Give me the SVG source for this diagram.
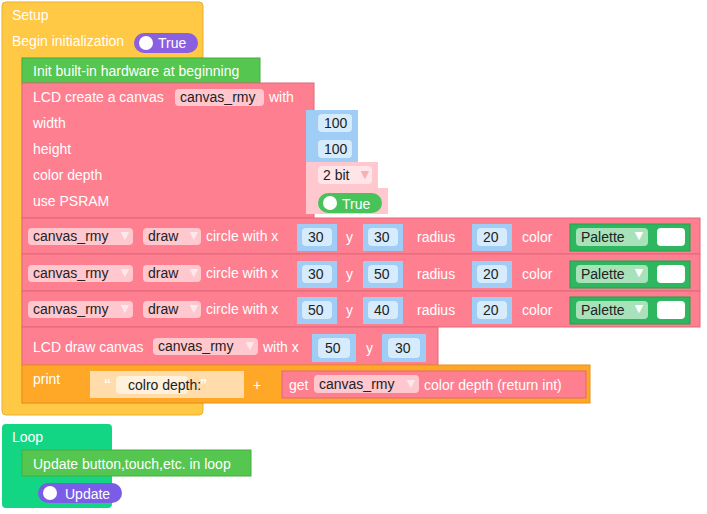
<svg xmlns="http://www.w3.org/2000/svg" width="707" height="514" viewBox="0 0 707 514">
<style>
text{font-family:"Liberation Sans",Arial,sans-serif;font-size:14px}
.w{fill:#fff}.d{fill:#222}
.pk{fill:#fe7f90;stroke:#e0687a;stroke-width:1}
.bl{fill:#9fcdf5}
.fb{fill:#d6ebfc}
.pf{fill:#ffc7ce}
.gr{fill:#2fb760;stroke:#23a050}
.gf{fill:#a8e2bb}
.arr{fill:#fff;opacity:.6}
</style>
<rect width="707" height="514" fill="#fff"/>
<g id="setup">
<path d="M6,2H199a4,4 0 0 1 4,4V58H22V403H203V411a4,4 0 0 1 -4,4H6a4,4 0 0 1 -4,-4V6a4,4 0 0 1 4,-4Z" fill="#ffc845" stroke="#e8b030"/>
<text x="12" y="20" class="w">Setup</text>
<text x="12" y="46" class="w">Begin initialization</text>
<rect x="134" y="33" width="64" height="20" rx="10" fill="#8a5fe0"/>
<circle cx="146" cy="43" r="7" fill="#fff"/>
<text x="158" y="48" class="w">True</text>
</g>
<g id="init">
<rect x="22" y="58" width="238" height="25" fill="#55c64f" stroke="#46ad40"/>
<text x="33" y="76" class="w">Init built-in hardware at beginning</text>
</g>
<g id="lcd-create">
<rect x="22" y="83" width="292" height="135" class="pk"/>
<text x="33" y="102" class="w">LCD create a canvas</text>
<rect x="175" y="89" width="89" height="17" rx="4" class="pf"/>
<text x="180" y="102" class="d">canvas_rmy</text>
<text x="269" y="102" class="w">with</text>
<text x="33" y="128" class="w">width</text>
<text x="33" y="154" class="w">height</text>
<text x="33" y="180" class="w">color depth</text>
<text x="33" y="206" class="w">use PSRAM</text>
<rect x="306" y="110" width="52" height="26" class="bl"/>
<rect x="318" y="114" width="34" height="18" rx="4" class="fb"/>
<text x="324" y="128" class="d">100</text>
<rect x="306" y="136" width="52" height="26" class="bl"/>
<rect x="318" y="140" width="34" height="18" rx="4" class="fb"/>
<text x="324" y="154" class="d">100</text>
<rect x="306" y="162" width="72" height="26" class="pf"/>
<rect x="318" y="166" width="54" height="18" rx="4" fill="#ffe4e8"/>
<text x="323" y="180" class="d">2 bit</text>
<text x="358" y="179" font-size="8" fill="#f4b0b8">▼</text>
<rect x="306" y="188" width="82" height="26" class="pf"/>
<rect x="318" y="193" width="64" height="20" rx="10" fill="#48c35a"/>
<circle cx="330" cy="203" r="7" fill="#fff"/>
<text x="342" y="209" class="w">True</text>
</g>
<g id="circle1">
<rect x="22" y="218" width="678" height="36" class="pk"/>
<rect x="28" y="228" width="105" height="17" rx="4" class="pf"/><text x="33" y="241" class="d">canvas_rmy</text><text x="118" y="240" font-size="8" class="arr">▼</text>
<rect x="143" y="228" width="58" height="17" rx="4" class="pf"/><text x="148" y="241" class="d">draw</text><text x="187" y="240" font-size="8" class="arr">▼</text>
<text x="206" y="241" class="w">circle with x</text>
<rect x="297" y="224" width="40" height="27" class="bl"/><rect x="302" y="228" width="30" height="18" rx="4" class="fb"/><text x="308" y="242" class="d">30</text>
<text x="346" y="242" class="w">y</text>
<rect x="363" y="224" width="40" height="27" class="bl"/><rect x="368" y="228" width="30" height="18" rx="4" class="fb"/><text x="374" y="242" class="d">30</text>
<text x="417" y="242" class="w">radius</text>
<rect x="472" y="224" width="40" height="27" class="bl"/><rect x="477" y="228" width="30" height="18" rx="4" class="fb"/><text x="483" y="242" class="d">20</text>
<text x="522" y="242" class="w">color</text>
<rect x="570" y="224" width="120" height="27" class="gr"/>
<rect x="576" y="228" width="72" height="18" rx="4" class="gf"/><text x="581" y="242" class="d">Palette</text><text x="632" y="240" font-size="8" fill="#fff">▼</text>
<rect x="657" y="228" width="28" height="18" rx="4" fill="#fff"/>
</g>
<g id="circle2">
<rect x="22" y="254" width="678" height="37" class="pk"/>
<rect x="28" y="265" width="105" height="17" rx="4" class="pf"/><text x="33" y="278" class="d">canvas_rmy</text><text x="118" y="277" font-size="8" class="arr">▼</text>
<rect x="143" y="265" width="58" height="17" rx="4" class="pf"/><text x="148" y="278" class="d">draw</text><text x="187" y="277" font-size="8" class="arr">▼</text>
<text x="206" y="278" class="w">circle with x</text>
<rect x="297" y="261" width="40" height="27" class="bl"/><rect x="302" y="265" width="30" height="18" rx="4" class="fb"/><text x="308" y="279" class="d">30</text>
<text x="346" y="279" class="w">y</text>
<rect x="363" y="261" width="40" height="27" class="bl"/><rect x="368" y="265" width="30" height="18" rx="4" class="fb"/><text x="374" y="279" class="d">50</text>
<text x="417" y="279" class="w">radius</text>
<rect x="472" y="261" width="40" height="27" class="bl"/><rect x="477" y="265" width="30" height="18" rx="4" class="fb"/><text x="483" y="279" class="d">20</text>
<text x="522" y="279" class="w">color</text>
<rect x="570" y="261" width="120" height="27" class="gr"/>
<rect x="576" y="265" width="72" height="18" rx="4" class="gf"/><text x="581" y="279" class="d">Palette</text><text x="632" y="277" font-size="8" fill="#fff">▼</text>
<rect x="657" y="265" width="28" height="18" rx="4" fill="#fff"/>
</g>
<g id="circle3">
<rect x="22" y="291" width="678" height="36" class="pk"/>
<rect x="28" y="301" width="105" height="17" rx="4" class="pf"/><text x="33" y="314" class="d">canvas_rmy</text><text x="118" y="313" font-size="8" class="arr">▼</text>
<rect x="143" y="301" width="58" height="17" rx="4" class="pf"/><text x="148" y="314" class="d">draw</text><text x="187" y="313" font-size="8" class="arr">▼</text>
<text x="206" y="314" class="w">circle with x</text>
<rect x="297" y="297" width="40" height="27" class="bl"/><rect x="302" y="301" width="30" height="18" rx="4" class="fb"/><text x="308" y="315" class="d">50</text>
<text x="346" y="315" class="w">y</text>
<rect x="363" y="297" width="40" height="27" class="bl"/><rect x="368" y="301" width="30" height="18" rx="4" class="fb"/><text x="374" y="315" class="d">40</text>
<text x="417" y="315" class="w">radius</text>
<rect x="472" y="297" width="40" height="27" class="bl"/><rect x="477" y="301" width="30" height="18" rx="4" class="fb"/><text x="483" y="315" class="d">20</text>
<text x="522" y="315" class="w">color</text>
<rect x="570" y="297" width="120" height="27" class="gr"/>
<rect x="576" y="301" width="72" height="18" rx="4" class="gf"/><text x="581" y="315" class="d">Palette</text><text x="632" y="313" font-size="8" fill="#fff">▼</text>
<rect x="657" y="301" width="28" height="18" rx="4" fill="#fff"/>
</g>
<g id="lcd-draw">
<rect x="22" y="327" width="416" height="38" class="pk"/>
<text x="33" y="352" class="w">LCD draw canvas</text>
<rect x="153" y="338" width="105" height="17" rx="4" class="pf"/><text x="158" y="351" class="d">canvas_rmy</text><text x="243" y="350" font-size="8" class="arr">▼</text>
<text x="263" y="352" class="w">with x</text>
<rect x="312" y="334" width="44" height="28" class="bl"/><rect x="318" y="338" width="32" height="20" rx="4" class="fb"/><text x="325" y="353" class="d">50</text>
<text x="366" y="353" class="w">y</text>
<rect x="382" y="334" width="44" height="28" class="bl"/><rect x="388" y="338" width="32" height="20" rx="4" class="fb"/><text x="395" y="353" class="d">30</text>
</g>
<g id="print">
<rect x="22" y="365" width="568" height="38" fill="#ffa726" stroke="#e8901a"/>
<text x="33" y="384" class="w">print</text>
<rect x="90" y="371" width="154" height="27" fill="#ffdcaa"/>
<text x="104" y="389" fill="#fff" font-weight="bold">“</text>
<rect x="116" y="376" width="72" height="18" rx="4" fill="#fff1dc"/>
<text x="128" y="390" class="d">colro depth:</text>
<text x="200" y="389" fill="#fff" font-weight="bold">”</text>
<text x="253" y="390" class="w">+</text>
<rect x="282" y="371" width="304" height="27" class="pk"/>
<text x="289" y="390" class="w">get</text>
<rect x="314" y="375" width="105" height="18" rx="4" class="pf"/><text x="319" y="389" class="d">canvas_rmy</text><text x="404" y="388" font-size="8" class="arr">▼</text>
<text x="424" y="390" class="w">color depth (return int)</text>
</g>
<g id="loop">
<path d="M6,424H108a4,4 0 0 1 4,4V450H22V476H112V504a4,4 0 0 1 -4,4H6a4,4 0 0 1 -4,-4V428a4,4 0 0 1 4,-4Z" fill="#13d684"/>
<text x="12" y="442" class="w">Loop</text>
<rect x="22" y="450" width="229" height="26" fill="#55c64f" stroke="#46ad40"/>
<text x="33" y="469" class="w">Update button,touch,etc. in loop</text>
<rect x="38" y="483" width="84" height="20" rx="10" fill="#7a5ce6"/>
<circle cx="50" cy="493" r="7" fill="#fff"/>
<text x="65" y="499" class="w">Update</text>
</g>
</svg>
